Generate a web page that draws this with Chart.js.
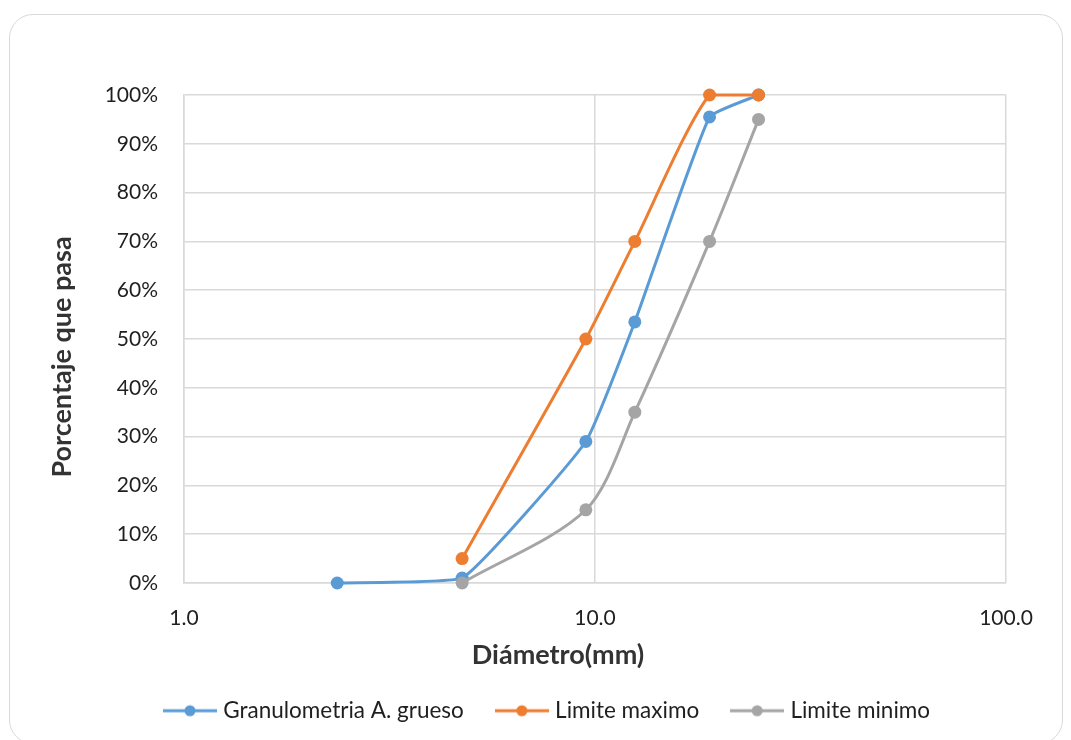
<!DOCTYPE html>
<html>
<head>
<meta charset="utf-8">
<script src="https://cdn.jsdelivr.net/npm/chart.js@4"></script>
<style>
  body { margin: 0; background: #fff; }
  #wrap { position: relative; width: 1071px; height: 740px; }
  #frame { position: absolute; left: 9px; top: 14px; width: 1054px; height: 730px;
           border: 1.5px solid #D9D9D9; border-radius: 24px; box-sizing: border-box; }
  canvas { position: absolute; left: 0; top: 0; }
</style>
</head>
<body>
<div id="wrap">
  <div id="frame"></div>
  <canvas id="chart" width="1071" height="740"></canvas>
</div>
<script>
// sieve openings (mm)
const diamGrueso = [2.36, 4.75, 9.5, 12.5, 19, 25];
const diamLimites = [4.75, 9.5, 12.5, 19, 25];

// percent passing
const granulometria = [0, 1, 29, 53.5, 95.5, 100];
const limiteMaximo = [5, 50, 70, 100, 100];
const limiteMinimo = [0, 15, 35, 70, 95];

const seriesNames = ['Granulometria A. grueso', 'Limite maximo', 'Limite minimo'];
const seriesColors = ['#5B9BD5', '#ED7D31', '#A5A5A5'];
const xTicks = [1, 10, 100];

const FONT = 'Lato';

function toPoints(xs, ys) {
  return xs.map((x, i) => ({ x: x, y: ys[i] }));
}

function legendMarker(color) {
  const c = document.createElement('canvas');
  c.width = 54; c.height = 14;
  const g = c.getContext('2d');
  g.strokeStyle = color;
  g.lineWidth = 3;
  g.beginPath(); g.moveTo(0, 7); g.lineTo(54, 7); g.stroke();
  g.fillStyle = color;
  g.beginPath(); g.arc(27, 7, 5.5, 0, Math.PI * 2); g.fill();
  return c;
}
const markers = seriesColors.map(legendMarker);

function lineSet(i, data, order, tension) {
  return {
    label: seriesNames[i],
    data: data,
    borderColor: seriesColors[i],
    backgroundColor: seriesColors[i],
    borderWidth: 3,
    pointRadius: 6.5,
    pointHoverRadius: 6.5,
    pointBorderWidth: 0,
    tension: tension,
    clip: false,
    order: order
  };
}

const axisTitles = {
  id: 'axisTitles',
  afterDraw(chart) {
    const ctx = chart.ctx;
    const a = chart.chartArea;
    ctx.save();
    ctx.fillStyle = '#333333';
    ctx.font = 'bold 27px ' + FONT;
    ctx.textAlign = 'center';
    ctx.textBaseline = 'middle';
    ctx.fillText('Diámetro(mm)', (a.left + a.right) / 2 - 37, a.bottom + 72);
    ctx.translate(a.left - 122, (a.top + a.bottom) / 2 + 18);
    ctx.rotate(-Math.PI / 2);
    ctx.fillText('Porcentaje que pasa', 0, 0);
    ctx.restore();
  }
};

new Chart(document.getElementById('chart'), {
  type: 'line',
  data: {
    datasets: [
      lineSet(0, toPoints(diamGrueso, granulometria), 3, 0.12),
      lineSet(1, toPoints(diamLimites, limiteMaximo), 2, 0.22),
      lineSet(2, toPoints(diamLimites, limiteMinimo), 1, 0.3)
    ]
  },
  options: {
    responsive: false,
    animation: false,
    layout: { padding: { left: 92, right: 65, top: 95, bottom: 8 } },
    scales: {
      x: {
        type: 'logarithmic',
        min: 1,
        max: 100,
        afterBuildTicks: (scale) => { scale.ticks = xTicks.map(v => ({ value: v, major: true })); },
        afterFit: (scale) => { scale.height = 80.5; },
        grid: { color: '#D9D9D9', lineWidth: 1.5, drawTicks: false },
        border: { color: '#D9D9D9', width: 1.5 },
        ticks: {
          color: '#1f1f1f',
          font: { family: FONT, size: 21 },
          padding: 23,
          maxRotation: 0,
          callback: (v) => Number(v).toFixed(1)
        }
      },
      y: {
        min: 0,
        max: 100,
        afterFit: (scale) => { scale.width = 92; },
        grid: { color: '#D9D9D9', lineWidth: 1.5, drawTicks: false },
        border: { color: '#D9D9D9', width: 1.5 },
        ticks: {
          stepSize: 10,
          color: '#1f1f1f',
          font: { family: FONT, size: 21 },
          padding: 26,
          callback: (v) => v + '%'
        }
      }
    },
    plugins: {
      tooltip: { enabled: false },
      legend: {
        position: 'bottom',
        labels: {
          usePointStyle: true,
          pointStyleWidth: 44,
          padding: 36,
          color: '#1f1f1f',
          font: { family: FONT, size: 22.5 },
          sort: (a, b) => a.datasetIndex - b.datasetIndex,
          generateLabels: (chart) => {
            const items = Chart.defaults.plugins.legend.labels.generateLabels(chart);
            items.forEach(it => { it.pointStyle = markers[it.datasetIndex]; });
            return items;
          }
        }
      }
    }
  },
  plugins: [axisTitles]
});
</script>
</body>
</html>
